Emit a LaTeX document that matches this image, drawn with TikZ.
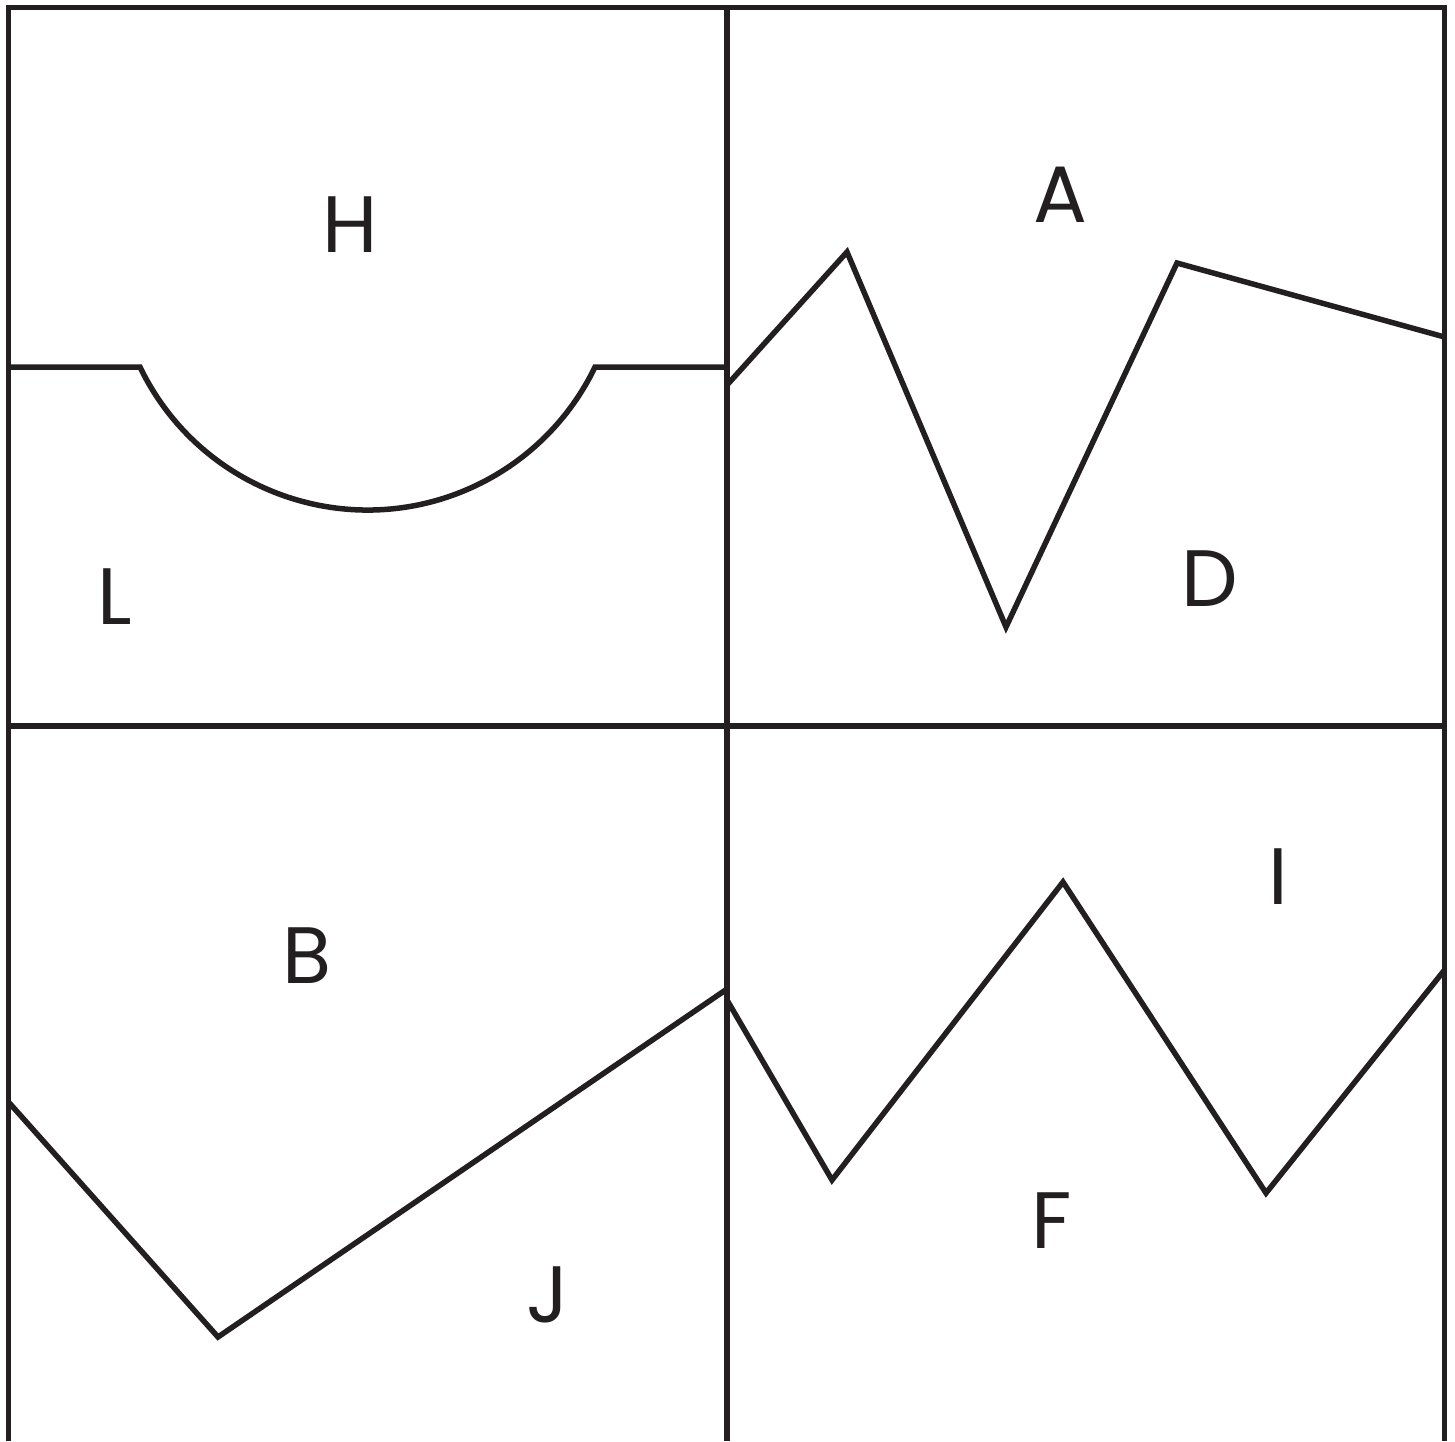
\documentclass[tikz,border=0pt]{standalone}
\usepackage{fontspec}
\setmainfont{Poppins}
\definecolor{ink}{HTML}{231F20}
\begin{document}
\begin{tikzpicture}[x=1pt,y=-1pt,
  edge/.style={draw=ink,line width=5.5pt,line join=miter},
  lab/.style={anchor=base,inner sep=0pt,text=ink,font=\fontsize{80}{80}\selectfont}]
\useasboundingbox (0,0) rectangle (1455,1441);
% frame
\draw[edge] (8.5,1441) -- (8.5,7.5) -- (1444.5,7.5) -- (1444.5,1441);
\draw[edge] (727,7.5) -- (727,1441);
\draw[edge] (8.5,726) -- (1444.5,726);
% top-left: line with semicircular dip
\draw[edge] (8.5,367) -- (140,367) arc[start angle=154.3,end angle=25.7,radius=252.5] -- (727,367);
% top-right zigzag
\draw[edge] (727,385) -- (847,252) -- (1006,627) -- (1177,263) -- (1444.5,337);
% bottom-left
\draw[edge] (8.5,1102) -- (218,1337) -- (727,989);
% bottom-right zigzag
\draw[edge] (727,1000) -- (832,1180) -- (1063,882) -- (1266,1193) -- (1444.5,970);
% labels
\node[lab] (H) at (350,252) {H};
\node[lab] (A) at (1060,222) {A};
\node[lab] (L) at (115,624) {L};
\node[lab] (D) at (1210,606) {D};
\node[lab] (B) at (307,983) {B};
\node[lab] (J) at (548,1322) {J};
\node[lab] (I) at (1278,904) {I};
\node[lab] (F) at (1052,1248) {F};
\end{tikzpicture}
\end{document}
